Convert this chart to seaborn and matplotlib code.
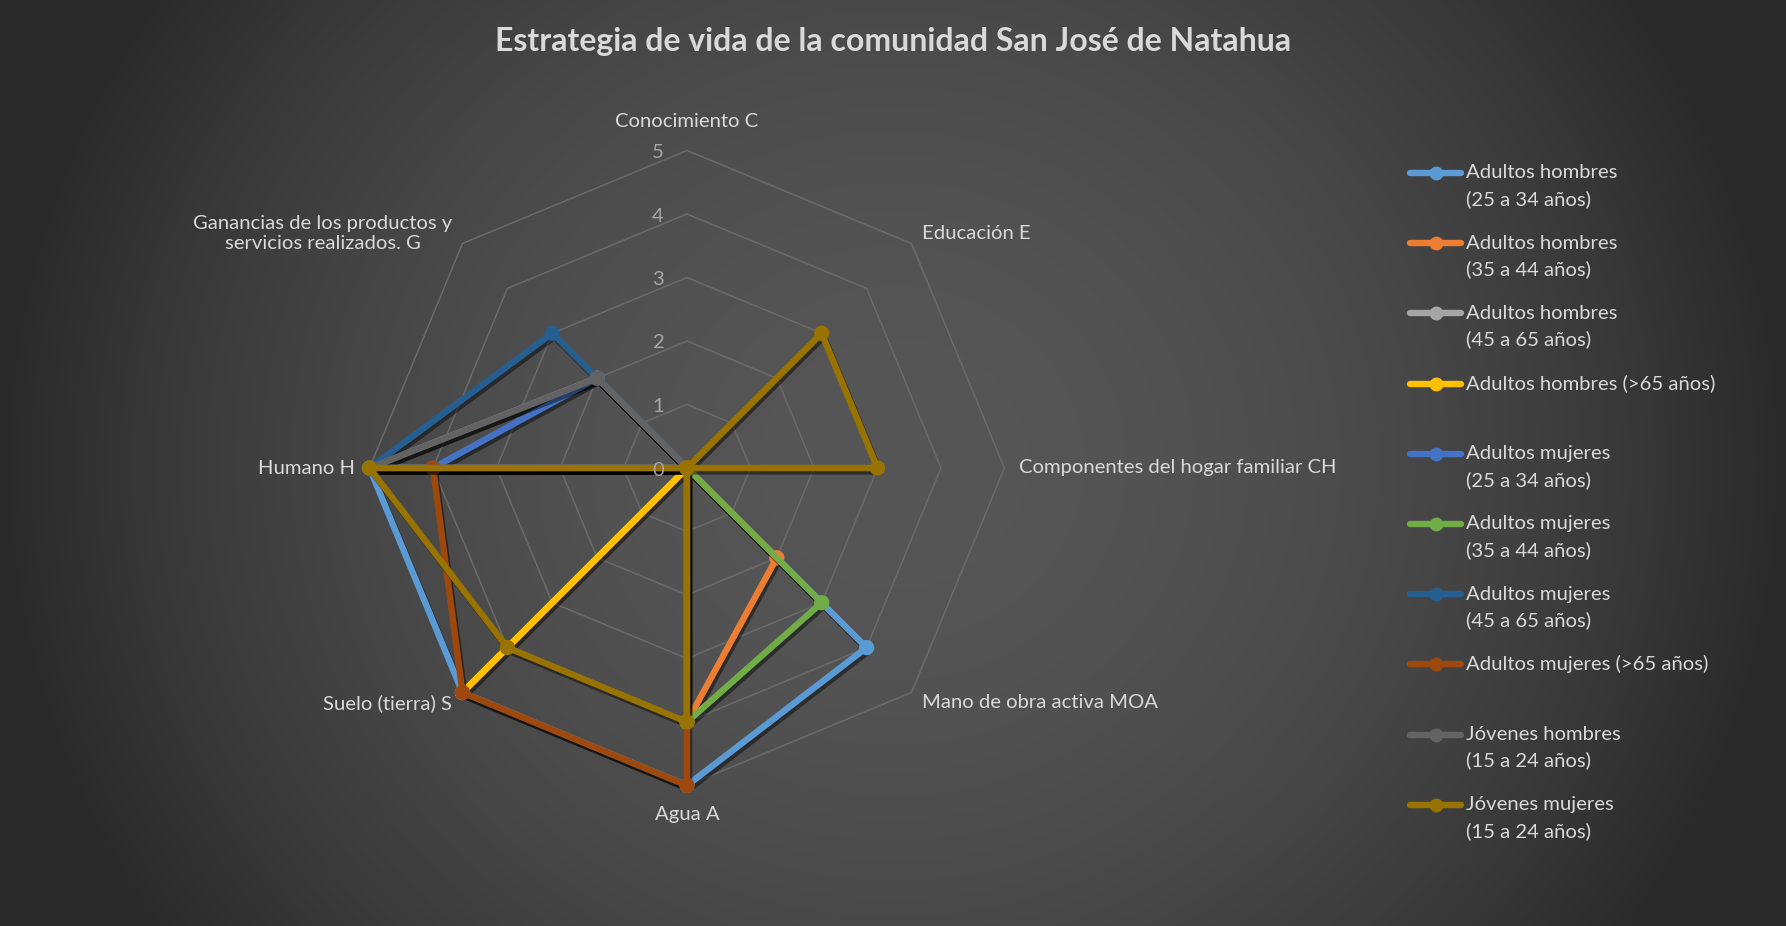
import numpy as np
import pandas as pd
import matplotlib
matplotlib.use("Agg")
import matplotlib.pyplot as plt
import seaborn as sns
from matplotlib import patheffects as pe
from matplotlib.lines import Line2D
from matplotlib.transforms import offset_copy

# ---------------- data ----------------
categorias = ["Conocimiento C", "Educación E", "Componentes del hogar familiar CH",
              "Mano de obra activa MOA", "Agua A", "Suelo (tierra) S", "Humano H",
              "Ganancias de los productos y\nservicios realizados. G"]

series = ["Adultos hombres\n(25 a 34 años)", "Adultos hombres\n(35 a 44 años)",
          "Adultos hombres\n(45 a 65 años)", "Adultos hombres (>65 años)",
          "Adultos mujeres\n(25 a 34 años)", "Adultos mujeres\n(35 a 44 años)",
          "Adultos mujeres\n(45 a 65 años)", "Adultos mujeres (>65 años)",
          "Jóvenes hombres\n(15 a 24 años)", "Jóvenes mujeres\n(15 a 24 años)"]

adultos_hombres_25_34 = [0, 0, 0, 4, 5, 5, 5, 0]
adultos_hombres_35_44 = [0, 0, 0, 2, 4, 0, 0, 0]
adultos_hombres_45_65 = [0, 0, 0, 0, 0, 0, 5, 2]
adultos_hombres_65 = [0, 0, 0, 0, 0, 5, 0, 0]
adultos_mujeres_25_34 = [0, 0, 0, 0, 0, 0, 4, 2]
adultos_mujeres_35_44 = [0, 0, 0, 3, 4, 0, 0, 0]
adultos_mujeres_45_65 = [0, 0, 0, 0, 0, 0, 5, 3]
adultos_mujeres_65 = [0, 0, 0, 0, 5, 5, 4, 0]
jovenes_hombres_15_24 = [0, 0, 0, 0, 0, 0, 5, 2]
jovenes_mujeres_15_24 = [0, 3, 3, 0, 4, 4, 5, 0]

valores = [adultos_hombres_25_34, adultos_hombres_35_44, adultos_hombres_45_65,
           adultos_hombres_65, adultos_mujeres_25_34, adultos_mujeres_35_44,
           adultos_mujeres_45_65, adultos_mujeres_65, jovenes_hombres_15_24,
           jovenes_mujeres_15_24]

colores = ["#5B9BD5", "#ED7D31", "#A5A5A5", "#FFC000", "#4472C4",
           "#70AD47", "#255E91", "#9E480E", "#636363", "#997300"]

niveles = [0, 1, 2, 3, 4, 5]
titulo = "Estrategia de vida de la comunidad San José de Natahua"

# ---------------- style ----------------
sns.set_theme(style="white")
plt.rcParams["font.family"] = ["Lato", "DejaVu Sans"]
TXT = "#d9d9d9"
FS = 14.6

W, H = 1786, 926
fig = plt.figure(figsize=(W / 100, H / 100), dpi=100)
fig.patch.set_facecolor("#3a3a3a")

# background gradient (bright centre, dark sides)
bg = fig.add_axes([0, 0, 1, 1], zorder=-10)
yy, xx = np.mgrid[0:H, 0:W]
d = np.sqrt(((xx - 0.5 * W) / (0.5 * W)) ** 2 + ((yy - 0.5 * H) / (0.9 * H)) ** 2)
d = np.clip(d, 0, 1) ** 2
inner = np.array([0x56, 0x56, 0x56]) / 255
outer = np.array([0x2a, 0x2a, 0x2a]) / 255
img = inner[None, None, :] * (1 - d[..., None]) + outer[None, None, :] * d[..., None]
bg.imshow(img, aspect="auto", extent=[0, 1, 0, 1])
bg.axis("off")

# polar axes
cx, cy, R = 687, 468, 317.5
ax = fig.add_axes([(cx - R) / W, (H - cy - R) / H, 2 * R / W, 2 * R / H],
                  projection="polar")
ax.set_facecolor("none")
ax.set_theta_zero_location("N")
ax.set_theta_direction(-1)
ax.set_ylim(0, 5)
ax.grid(False)
ax.set_xticks([])
ax.set_yticks([])
ax.spines["polar"].set_visible(False)

n = len(categorias)
ang = np.arange(n) * 2 * np.pi / n
ang_c = np.append(ang, 2 * np.pi)

# octagonal grid rings
for k in niveles[1:]:
    ax.plot(ang_c, [k] * (n + 1), color="#6a6a6a", lw=1.1, zorder=1, clip_on=False)

# long-form data frame
rows = []
for s, vals in zip(series, valores):
    vc = list(vals) + [vals[0]]
    for t, v in zip(ang_c, vc):
        rows.append({"serie": s, "theta": t, "valor": v})
df = pd.DataFrame(rows)

sns.lineplot(data=df, x="theta", y="valor", hue="serie", hue_order=series,
             palette=colores, marker="o", markersize=11, markeredgewidth=0,
             linewidth=4.6, sort=False, estimator=None, legend=False, ax=ax)
for ln in ax.lines[len(niveles) - 1:]:
    ln.set_clip_on(False)
    ln.set_zorder(3)
    ln.set_path_effects([pe.SimpleLineShadow(offset=(1.5, -2.5), shadow_color="black", alpha=0.45),
                         pe.Normal()])
ax.set_xlabel("")
ax.set_ylabel("")
ax.set_ylim(0, 5)

# radial tick labels
tr = offset_copy(ax.transData, fig=fig, x=-29, y=-2, units="dots")
for k in niveles:
    ax.text(0, k, str(k), transform=tr, ha="center", va="center",
            color="#a6a6a6", fontsize=FS, zorder=6)

# category labels
lab_cfg = [(5.45, "center"), (5.23, "left"), (5.23, "left"), (5.23, "left"),
           (5.45, "center"), (5.23, "right"), (5.23, "right"), (5.23, "right")]
for t, lab, (rr, ha) in zip(ang, categorias, lab_cfg):
    ax.text(t, rr, lab, ha=ha, va="center", color=TXT, fontsize=FS,
            multialignment="center")

# title
fig.text(0.5, 1 - 42 / H, titulo, ha="center", va="center", color=TXT,
         fontsize=23, fontweight="bold")

# legend (manual, Excel-like)
y0, step, line_gap = 173, 70.2, 26
for i, (s, c) in enumerate(zip(series, colores)):
    y = y0 + i * step
    fig.add_artist(Line2D([1410 / W, 1461 / W], [1 - y / H, 1 - y / H], color=c, lw=4.6,
                          solid_capstyle="round", transform=fig.transFigure))
    fig.add_artist(Line2D([1436 / W], [1 - y / H], color=c, marker="o", markersize=10,
                          markeredgewidth=0, transform=fig.transFigure))
    for j, part in enumerate(s.split("\n")):
        fig.text(1466 / W, 1 - (y + j * line_gap) / H, part, ha="left", va="center",
                 color=TXT, fontsize=FS)

fig.savefig("out.png", dpi=100, facecolor=fig.get_facecolor())
